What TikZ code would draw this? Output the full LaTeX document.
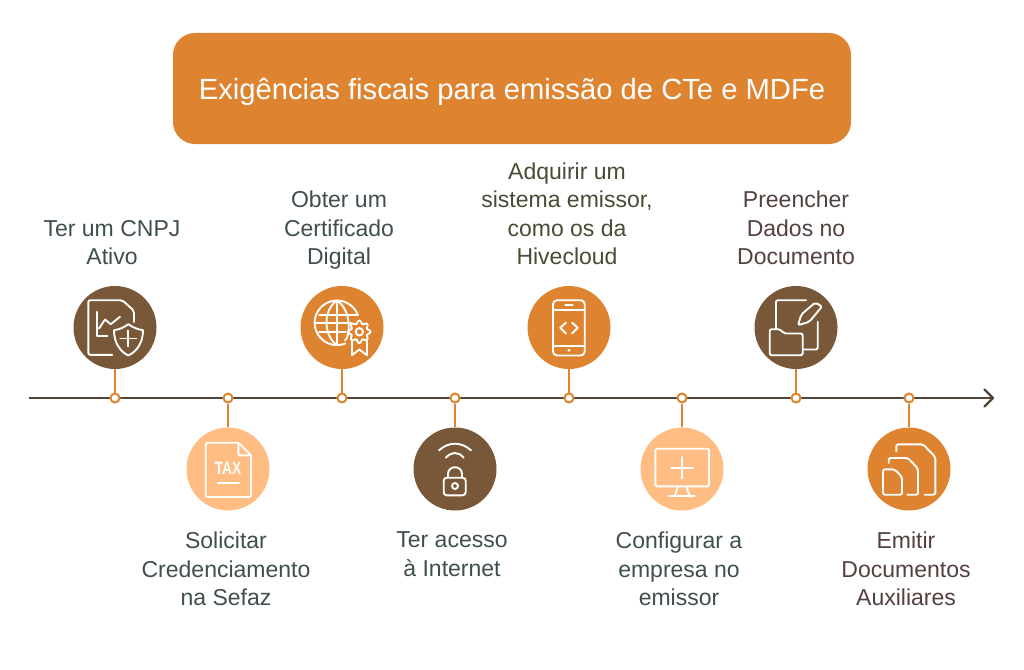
\documentclass[tikz,border=0pt]{standalone}
\usepackage{fontspec}
\setmainfont{Liberation Sans}
\definecolor{orangebox}{HTML}{DE8431}
\definecolor{brownbox}{HTML}{785838}
\definecolor{lightbox}{HTML}{FFBD83}
\definecolor{axisline}{HTML}{53453A}
\definecolor{txtslate}{HTML}{3F4F4C}
\definecolor{txtolive}{HTML}{4A4A36}
\definecolor{txtplum}{HTML}{54403F}
\tikzset{
  disc/.style={circle, minimum size=83pt, inner sep=0pt},
  dotnode/.style={circle, draw=orangebox, line width=2pt, fill=white, minimum size=9pt, inner sep=0pt},
  stem/.style={draw=orangebox, line width=2pt},
  lbl/.style={font=\fontsize{23}{28.5}\selectfont, align=center},
  lblup/.style={lbl, anchor=south, text depth=5pt},
  lbldown/.style={lbl, anchor=north},
  icon/.style={draw=white, line width=1.9pt, line cap=round, line join=round}
}
\begin{document}
\begin{tikzpicture}[x=1pt, y=-1pt]
\useasboundingbox (0, 0) rectangle (1024, 669);
% title
\node[fill=orangebox, rounded corners=22pt, minimum width=678pt, minimum height=111pt, inner sep=0pt] (title) at (512, 88.5) {};
\node[text=white, font=\fontsize{29.2}{34}\selectfont, inner sep=0pt] (titletext) at (512, 91.5) {Exigências fiscais para emissão de CTe e MDFe};
% axis
\coordinate (axisstart) at (29, 398);
\coordinate (axisend) at (993, 398);
\draw[axisline, line width=2.2pt] (axisstart) -- (axisend);
\draw[axisline, line width=2.2pt, line cap=round, line join=round] (984.5, 389.5) -- (axisend) -- (984.5, 406.5);
% steps
\node[disc, fill=brownbox] (c1) at (115, 327.5) {};
\node[disc, fill=lightbox] (c2) at (228, 469) {};
\node[disc, fill=orangebox] (c3) at (342, 327.5) {};
\node[disc, fill=brownbox] (c4) at (455, 469) {};
\node[disc, fill=orangebox] (c5) at (569, 327.5) {};
\node[disc, fill=lightbox] (c6) at (682, 469) {};
\node[disc, fill=brownbox] (c7) at (796, 327.5) {};
\node[disc, fill=orangebox] (c8) at (909, 469) {};
\foreach \n/\x in {1/115, 2/228, 3/342, 4/455, 5/569, 6/682, 7/796, 8/909} {
  \node[dotnode] (d\n) at (\x, 398) {};
  \draw[stem] (c\n) -- (d\n);
}
% labels
\node[lblup, text=txtslate] (l1) at (112, 273.5) {Ter um CNPJ\\Ativo};
\node[lbldown, text=txtslate] (l2) at (226, 528.5) {Solicitar\\Credenciamento\\na Sefaz};
\node[lblup, text=txtslate] (l3) at (339, 273.5) {Obter um\\Certificado\\Digital};
\node[lbldown, text=txtslate] (l4) at (452, 528.5) {Ter acesso\\à Internet};
\node[lblup, text=txtolive] (l5) at (567, 273.5) {Adquirir um\\sistema emissor,\\como os da\\Hivecloud};
\node[lbldown, text=txtslate] (l6) at (679, 528.5) {Configurar a\\empresa no\\emissor};
\node[lblup, text=txtplum] (l7) at (796, 273.5) {Preencher\\Dados no\\Documento};
\node[lbldown, text=txtplum] (l8) at (906, 528.5) {Emitir\\Documentos\\Auxiliares};
% icon 1
\begin{scope}[shift={(c1)}, icon]
\draw[rounded corners=2pt] (-2.7, 27.3) -- (-26.7, 27.3) -- (-26.7, -27.3) -- (7.3, -27.3) -- (19, -16.7) -- (19, -5.7);
\draw (-17.7, -15.7) -- (-17.7, 8.7) -- (-7.7, 8.7);
\draw (-16, 1) -- (-10, -8) -- (-4.3, -3.3) -- (5, -10.7);
\draw (13.3, -3.3) .. controls (18, 0) and (23, 2) .. (28, 2.7) .. controls (28, 15) and (22, 24) .. (13.3, 28) .. controls (5, 24) and (-1, 15) .. (-1, 2.7) .. controls (4, 2) and (9, 0) .. (13.3, -3.3);
\draw (5.3, 11) -- (21.3, 11);
\draw (13.3, 3) -- (13.3, 19);
\end{scope}
% icon 2
\begin{scope}[shift={(c2)}, icon]
\draw[rounded corners=2pt] (10.3, -26.3) -- (-22.3, -26.3) -- (-22.3, 28) -- (23, 28) -- (23, -13.7);
\draw[rounded corners=1.5pt] (10.3, -26.3) -- (10.3, -13.7) -- (23, -13.7) -- cycle;
\node[draw=none, text=white, font=\bfseries\fontsize{18}{18}\selectfont, xscale=0.76, inner sep=0pt] (taxlabel) at (0, -0.3) {TAX};
\draw (-10.3, 14.3) -- (11, 14.3);
\end{scope}
% icon 3
\begin{scope}[shift={(c3)}, icon]
\draw (3.3, 16) arc[start angle=68, end angle=340, radius=22.3];
\draw (-5, -27) -- (-5, 17.6);
\draw (-5, -27) .. controls (-19, -18) and (-19, 8) .. (-5, 17.6);
\draw (-5, -27) .. controls (9, -18) and (9, 8) .. (3, 13);
\draw (-23, -12.3) -- (15, -12.3);
\draw (-27, -4.7) -- (9, -4.7);
\draw (-23, 4.3) -- (4, 4.3);
\begin{scope}[shift={(17.3, 4.3)}]
\draw[fill=orangebox] plot[smooth cycle, samples=49, domain=0:352.5] (\x:{9.7 + 1.6*cos(8*\x)});
\draw (0, 0) circle[radius=3.7];
\end{scope}
\draw (10, 13.5) -- (10, 27.7) -- (17.3, 22) -- (25, 27.7) -- (25, 13.5);
\end{scope}
% icon 4
\begin{scope}[shift={(c4)}, icon]
\draw (-16, -18.7) .. controls (-6, -27.5) and (6, -27.5) .. (16, -18.7);
\draw (-9.3, -11.3) .. controls (-3, -17.6) and (3, -17.6) .. (8.7, -11.3);
\draw[rounded corners=3pt] (-11.3, 8.7) rectangle (10.7, 26.3);
\draw (-7, 8.7) -- (-7, 5) .. controls (-7, -4) and (7, -4) .. (7, 5) -- (7, 8.7);
\draw (0, 17) circle[radius=3];
\end{scope}
% icon 5
\begin{scope}[shift={(c5)}, icon]
\draw[rounded corners=4pt] (-16, -27.3) rectangle (15.7, 28);
\draw (-16, -17.3) -- (15.7, -17.3);
\draw (-16, 18.3) -- (15.7, 18.3);
\draw (-3.7, -22.3) -- (4, -22.3);
\fill[white, draw=none] (0, 22.7) circle[radius=1.6];
\draw (-3, -5) -- (-8.7, 0.3) -- (-3, 6);
\draw (3, -5) -- (8.7, 0.3) -- (3, 6);
\end{scope}
% icon 6
\begin{scope}[shift={(c6)}, icon]
\draw[rounded corners=1.5pt] (-26.7, -20.3) rectangle (27, 17.3);
\draw (-11, -1.3) -- (11, -1.3);
\draw (0, -12) -- (0, 9.3);
\draw (-4, 17.3) -- (-7.3, 27.3);
\draw (4.3, 17.3) -- (7.7, 27.3);
\draw (-13, 27.3) -- (12.7, 27.3);
\end{scope}
% icon 7
\begin{scope}[shift={(c7)}, icon]
\draw[rounded corners=2pt] (-20, 1) -- (-20, -27.3) -- (10, -27.3);
\draw[rounded corners=1.5pt] (21.7, -5.7) -- (21.7, 22) -- (7.7, 22);
\draw[rounded corners=2pt] (-26.3, 1.7) -- (-15.7, 1.7) -- (-12.3, 6) -- (6.7, 6) -- (6.7, 27.7) -- (-26.3, 27.7) -- cycle;
\draw[rounded corners=2pt] (2, -2.3) -- (5.3, -13) -- (19.3, -25) -- (26, -21) -- (13.3, -5.7) -- cycle;
\end{scope}
% icon 8
\begin{scope}[shift={(c8)}, icon]
\draw[rounded corners=2pt] (-26, 0.3) -- (-14.3, 0.3) -- (-7, 8) -- (-7, 25.7) -- (-26, 25.7) -- cycle;
\draw[rounded corners=2pt] (-20.3, -6) -- (-20.3, -11) -- (-1, -11) -- (9, -0.3) -- (9, 25.7) -- (-1.7, 25.7);
\draw[rounded corners=2pt] (-12.7, -17.7) -- (-12.7, -24.7) -- (14, -24.7) -- (26.3, -12) -- (26.3, 25.7) -- (15.7, 25.7);
\end{scope}
\end{tikzpicture}
\end{document}
